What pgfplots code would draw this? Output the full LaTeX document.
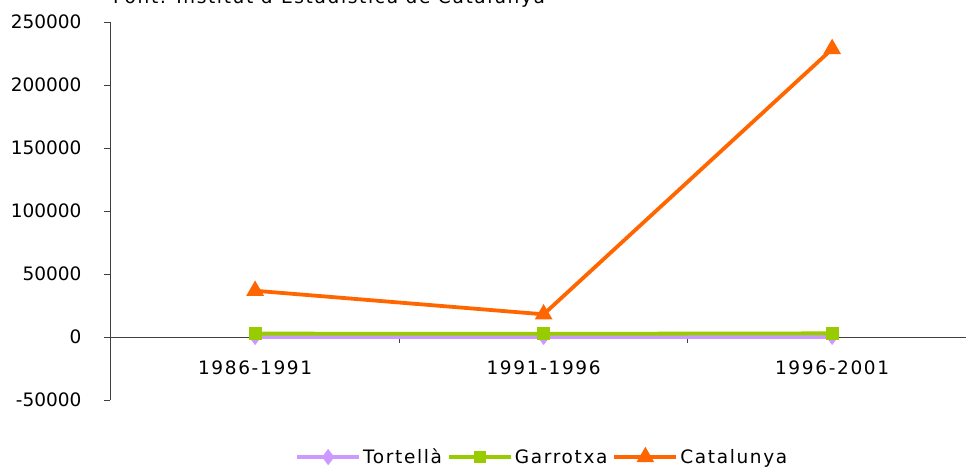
\documentclass[border=0pt]{standalone}
\usepackage{fontspec}
\setmainfont{DejaVu Sans}
\newfontfamily\spaced[LetterSpace=9]{DejaVu Sans}
\usepackage{pgfplots}
\pgfplotsset{compat=1.18}
\definecolor{tort}{HTML}{CC99FF}
\definecolor{garr}{HTML}{99CC00}
\definecolor{cat}{HTML}{FF6600}
\definecolor{axgray}{HTML}{404040}
\begin{document}
\begin{tikzpicture}[font=\fontsize{18.5bp}{21bp}\selectfont]
\begin{axis}[
  scale only axis, width=856bp, height=378bp,
  xmin=-0.503, xmax=2.464,
  ymin=-50000, ymax=250000,
  scaled y ticks=false,
  axis y line=left, axis x line=middle,
  axis line style={-, draw=axgray, line width=0.9bp},
  tick align=outside,
  major tick length=6bp,
  tick style={draw=axgray, line width=0.9bp},
  ytick={-50000,0,50000,100000,150000,200000,250000},
  yticklabels={-50000,0,50000,100000,150000,200000,250000},
  yticklabel style={xshift=-19bp},
  xtick={0.5,1.5},
  xticklabels={},
  extra x ticks={0,1,2},
  extra x tick labels={1986-1991,1991-1996,1996-2001},
  extra x tick style={major tick length=0pt, xticklabel style={yshift=-20bp, font=\fontsize{18.5bp}{21bp}\spaced}},
  clip=false,
  legend style={draw=none, at={(0.505,-0.151)}, anchor=center, fill=none,
    legend columns=3, font=\fontsize{18.5bp}{21bp}\spaced,
    /tikz/every even column/.append style={column sep=3bp},
    /tikz/every odd column/.append style={column sep=0bp}},
  legend image code/.code={\draw[mark repeat=2,mark phase=2] plot coordinates {(0bp,0bp)(31bp,0bp)(62bp,0bp)};},
]
\coordinate (sw) at (rel axis cs:0,0);
\coordinate (ne) at (rel axis cs:1,1);
\addplot[tort, line width=3.8bp, mark=diamond*, mark size=5bp, mark options={solid}] coordinates {(0,60) (1,30) (2,90)};
\addlegendentry{Tortellà}
\addplot[garr, line width=3.8bp, mark=square*, mark size=4.5bp, mark options={solid}] coordinates {(0,2700) (1,2500) (2,2900)};
\addlegendentry{Garrotxa}
\addplot[cat, line width=3.8bp, mark=triangle*, mark size=6.5bp, mark options={solid}] coordinates {(0,36700) (1,18000) (2,228600)};
\addlegendentry{Catalunya}
\end{axis}
\node[anchor=base, overlay, font=\fontsize{18.5bp}{21bp}\spaced] at ([xshift=219bp, yshift=18bp]sw |- ne) {Font: Institut d'Estadística de Catalunya};
\pgfresetboundingbox
\useasboundingbox ([xshift=-110bp,yshift=-68bp]sw) rectangle ([yshift=22bp]ne);
\end{tikzpicture}
\end{document}
